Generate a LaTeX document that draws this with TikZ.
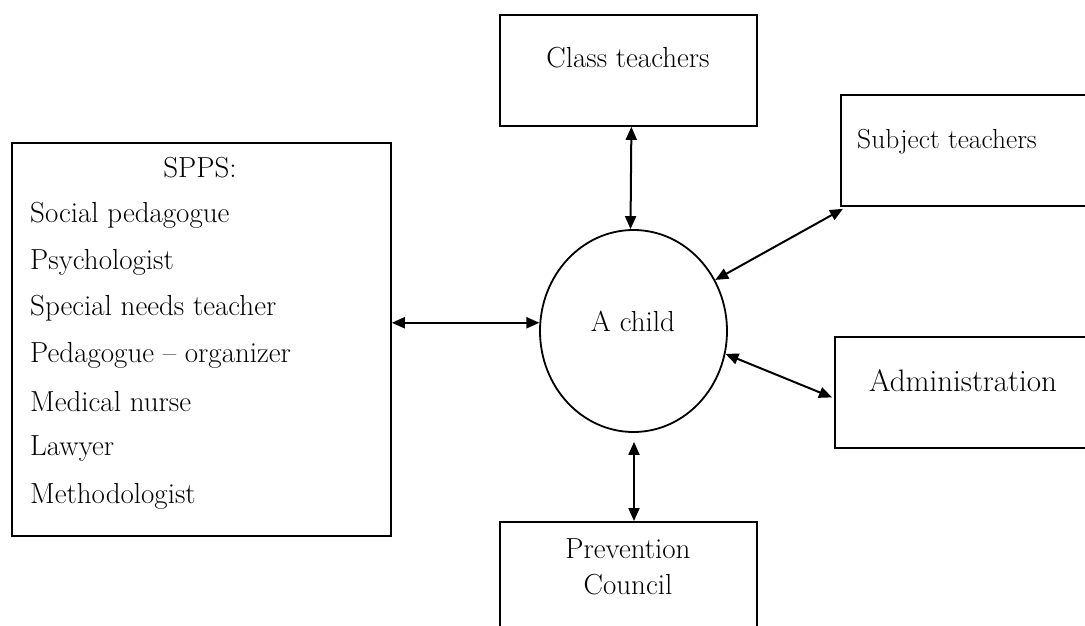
\documentclass[tikz,border=0pt]{standalone}
\usetikzlibrary{arrows.meta,shapes.geometric,calc}
\begin{document}
\begin{tikzpicture}[x=1pt,y=-1pt,
  box/.style={draw, line width=1.8pt, rectangle, inner sep=0pt, anchor=north west},
  lbl/.style={inner sep=0pt, font=\fontsize{29}{33}\selectfont},
  link/.style={line width=2pt, {Triangle[length=13pt,width=11pt]}-{Triangle[length=13pt,width=11pt]}}]
\useasboundingbox (0,0) rectangle (1085,626);
\clip (0,0) rectangle (1085,626);
% boxes
\node[box, minimum width=257pt, minimum height=111pt] (ct) at (499,14) {};
\node[box, minimum width=300pt, minimum height=111pt] (st) at (840,94) {};
\node[box, minimum width=300pt, minimum height=111pt] (adm) at (834,336) {};
\node[box, minimum width=257pt, minimum height=140pt] (pc) at (499,521) {};
\node[box, minimum width=379pt, minimum height=393pt] (spps) at (11,142) {};
\node[draw, line width=1.8pt, ellipse, minimum width=187pt, minimum height=202pt, inner sep=0pt] (child) at (633.5,331) {};
% texts
\node[lbl] (ctt) at (628,58) {Class teachers};
\node[lbl, anchor=west, font=\fontsize{27.5}{33}\selectfont] (stt) at (857,142) {Subject teachers};
\node[lbl, font=\fontsize{31}{35}\selectfont] (admt) at (963,381) {Administration};
\node[lbl] (pct1) at (628,549) {Prevention};
\node[lbl] (pct2) at (628,585) {Council};
\node[lbl] (childt) at (633,321) {A child};
\node[lbl] (sppst) at (200,168) {SPPS:};
\node[lbl, anchor=west] (s1) at (30,215) {Social pedagogue};
\node[lbl, anchor=west] (s2) at (30,262) {Psychologist};
\node[lbl, anchor=west] (s3) at (30,308) {Special needs teacher};
\node[lbl, anchor=west] (s4) at (30,355) {Pedagogue -- organizer};
\node[lbl, anchor=west] (s5) at (30,402) {Medical nurse};
\node[lbl, anchor=west] (s6) at (30,449) {Lawyer};
\node[lbl, anchor=west] (s7) at (30,496) {Methodologist};
% connectors
\coordinate (cb) at ($(child.south)+(0.5,9)$);
\draw[link] ($(ct.south)+(3,0)$) -- ($(child.north)+(-3,0)$);
\draw[link] (cb) -- (cb |- pc.north);
\draw[link] (spps.east |- child.175) -- (child.175);
\draw[link] (child.32) -- ($(st.south west)+(3,2)$);
\draw[link] (child.-14) -- ($(adm.west)+(-2,5)$);
\end{tikzpicture}
\end{document}
